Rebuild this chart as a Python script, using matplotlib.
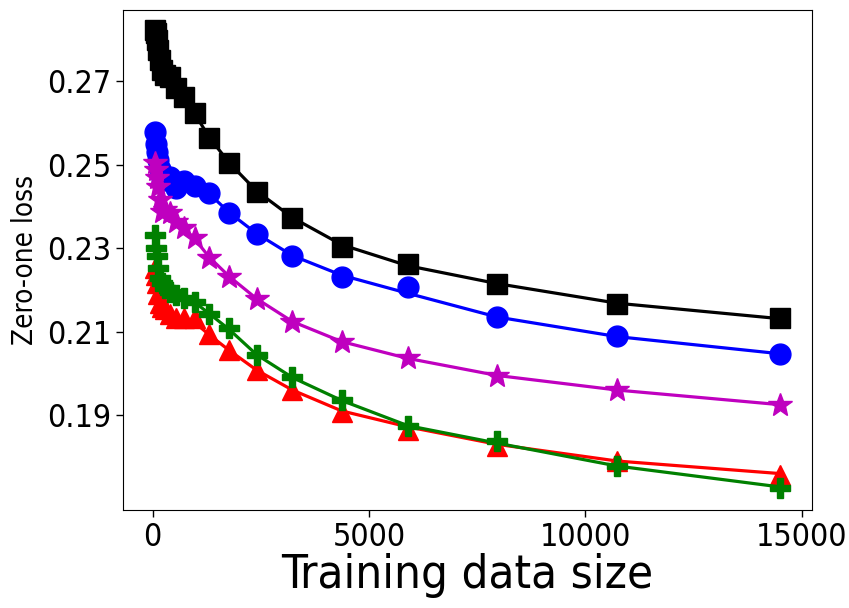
import numpy as np
import matplotlib.pyplot as plt

# training sizes (shared by all curves)
sizes = [50, 65, 90, 120, 160, 220, 290, 400, 530, 720, 970, 1310, 1770,
         2400, 3230, 4370, 5890, 7960, 10740, 14500]

# zero-one loss per method
loss_black = [0.2823, 0.2816, 0.2799, 0.2775, 0.2751, 0.2727, 0.2715, 0.2710,
              0.2684, 0.2662, 0.2624, 0.2564, 0.2504, 0.2435, 0.2373, 0.2303,
              0.2262, 0.2215, 0.2167, 0.2133]
loss_blue = [0.2579, 0.2550, 0.2530, 0.2510, 0.2490, 0.2468, 0.2462, 0.2470,
             0.2445, 0.2460, 0.2448, 0.2432, 0.2385, 0.2335, 0.2282, 0.2230,
             0.2208, 0.2135, 0.2090, 0.2047]
loss_magenta = [0.2504, 0.2488, 0.2468, 0.2447, 0.2416, 0.2387, 0.2392, 0.2385,
                0.2363, 0.2349, 0.2325, 0.2277, 0.2232, 0.2179, 0.2124, 0.2076,
                0.2038, 0.1994, 0.1961, 0.1925]
loss_green = [0.2332, 0.2301, 0.2282, 0.2253, 0.2229, 0.2217, 0.2205, 0.2195,
              0.2188, 0.2181, 0.2171, 0.2143, 0.2109, 0.2045, 0.1992, 0.1937,
              0.1875, 0.1839, 0.1779, 0.1726]
loss_red = [0.2253, 0.2236, 0.2217, 0.2189, 0.2169, 0.2160, 0.2153, 0.2143,
            0.2133, 0.2133, 0.2133, 0.2095, 0.2057, 0.2009, 0.1961, 0.1908,
            0.1865, 0.1827, 0.1789, 0.1757]

# smoothed trend lines drawn under the markers
fit_black = [0.2823, 0.2810, 0.2795, 0.2778, 0.2758, 0.2738, 0.2720, 0.2700,
             0.2680, 0.2655, 0.2622, 0.2565, 0.2504, 0.2437, 0.2373, 0.2308,
             0.2258, 0.2215, 0.2168, 0.2131]
fit_blue = [0.2579, 0.2560, 0.2540, 0.2520, 0.2500, 0.2485, 0.2475, 0.2468,
            0.2462, 0.2455, 0.2448, 0.2430, 0.2385, 0.2335, 0.2282, 0.2235,
            0.2192, 0.2135, 0.2088, 0.2047]
fit_magenta = [0.2504, 0.2485, 0.2465, 0.2445, 0.2420, 0.2400, 0.2390, 0.2382,
               0.2366, 0.2349, 0.2322, 0.2278, 0.2232, 0.2179, 0.2124, 0.2076,
               0.2036, 0.1995, 0.1960, 0.1925]
fit_green = [0.2332, 0.2300, 0.2280, 0.2255, 0.2232, 0.2218, 0.2207, 0.2197,
             0.2189, 0.2180, 0.2170, 0.2143, 0.2105, 0.2045, 0.1990, 0.1935,
             0.1875, 0.1833, 0.1778, 0.1728]
fit_red = [0.2253, 0.2236, 0.2217, 0.2192, 0.2172, 0.2160, 0.2152, 0.2143,
           0.2135, 0.2130, 0.2122, 0.2092, 0.2055, 0.2008, 0.1960, 0.1910,
           0.1872, 0.1830, 0.1790, 0.1760]

plt.rcParams['font.family'] = 'DejaVu Sans'
plt.rcParams['font.stretch'] = 'condensed'

fig = plt.figure(figsize=(8.49, 6.08), dpi=100)
ax = fig.add_axes([0.145, 0.161, 0.811, 0.823])

series = [
    (fit_black, loss_black, 'k', 's', 14),
    (fit_blue, loss_blue, 'b', 'o', 15),
    (fit_magenta, loss_magenta, 'm', '*', 18),
    (fit_red, loss_red, 'r', '^', 15),
    (fit_green, loss_green, 'g', 'P', 15),
]
for fit, loss, c, m, ms in series:
    ax.plot(sizes, fit, color=c, linewidth=2.3)
    ax.plot(sizes, loss, color=c, marker=m, markersize=ms, linestyle='none')

ax.set_xlim(-684, 15229)
ax.set_ylim(0.16725, 0.2871)
ax.set_xticks([0, 5000, 10000, 15000])
ax.set_yticks([0.19, 0.21, 0.23, 0.25, 0.27])
ax.set_yticklabels(['0.19', '0.21', '0.23', '0.25', '0.27'])
ax.tick_params(labelsize=23, length=5, width=1)

ax.set_xlabel('Training data size', fontsize=34, labelpad=0)
ax.set_ylabel('Zero-one loss', fontsize=20, labelpad=6)

fig.savefig('out.png', dpi=100)
